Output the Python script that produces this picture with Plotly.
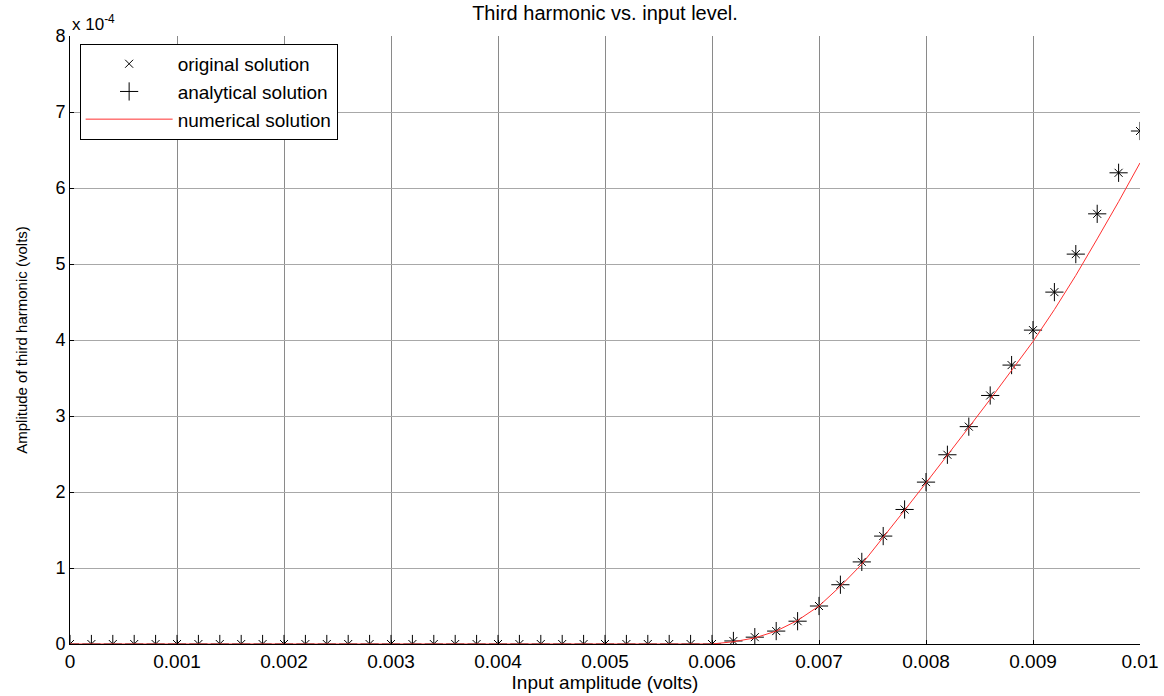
import plotly.graph_objects as go

# input amplitudes (volts)
x_vals = [round(i * 0.0002, 4) for i in range(51)]

# original solution (x 1e-4 volts), 0 ... 0.006 then 0.0062 ... 0.01
original = [0.0]*31 + [0.04, 0.09, 0.17, 0.30, 0.50, 0.78, 1.08, 1.42, 1.77,
                       2.13, 2.49, 2.86, 3.27, 3.67, 4.13, 4.63, 5.13, 5.66, 6.20, 6.75]
# analytical solution (x 1e-4 volts)
analytical = [0.0]*31 + [0.04, 0.09, 0.17, 0.30, 0.50, 0.78, 1.08, 1.42, 1.77,
                         2.13, 2.49, 2.86, 3.27, 3.67, 4.13, 4.63, 5.13, 5.66, 6.20, 6.75]
# numerical solution (x 1e-4 volts)
numerical = [0.0]*31 + [0.03, 0.08, 0.17, 0.31, 0.50, 0.76, 1.05, 1.40, 1.76,
                        2.12, 2.48, 2.85, 3.22, 3.60, 3.98, 4.40, 4.85, 5.33, 5.82, 6.33]

scale = 1e-4
x_ticks = [0, 0.001, 0.002, 0.003, 0.004, 0.005, 0.006, 0.007, 0.008, 0.009, 0.01]
x_ticktext = ["0", "0.001", "0.002", "0.003", "0.004", "0.005", "0.006", "0.007", "0.008", "0.009", "0.01"]
y_ticks = [0, 1, 2, 3, 4, 5, 6, 7, 8]

fig = go.Figure()
fig.add_trace(go.Scatter(
    x=x_vals, y=[v * scale for v in original], mode="markers", name="original solution",
    marker=dict(symbol="x-thin", size=8, line=dict(color="black", width=1), color="black")))
fig.add_trace(go.Scatter(
    x=x_vals, y=[v * scale for v in analytical], mode="markers", name="analytical solution",
    marker=dict(symbol="cross-thin", size=13, line=dict(color="black", width=1), color="black")))
fig.add_trace(go.Scatter(
    x=x_vals, y=[v * scale for v in numerical], mode="lines", name="numerical solution",
    line=dict(color="#ff3030", width=1)))

font = "Liberation Sans, Arial, sans-serif"
fig.update_layout(
    width=1164, height=696,
    margin=dict(l=70, r=24, t=36, b=52),
    paper_bgcolor="white", plot_bgcolor="white",
    font=dict(family=font, color="black", size=17),
    title=dict(text="Third harmonic vs. input level.", x=0.5, xref="paper", xanchor="center",
               y=1 - 13 / 696, yanchor="middle", font=dict(size=20)),
    showlegend=True,
    legend=dict(x=0.009, y=0.987, xanchor="left", yanchor="top",
                bordercolor="black", borderwidth=1, bgcolor="white",
                font=dict(size=19), tracegroupgap=0, itemwidth=87),
    xaxis=dict(range=[0, 0.01], tickvals=x_ticks, ticktext=x_ticktext,
               tickfont=dict(size=19), automargin=False, ticklabeloverflow="allow",
               showgrid=True, gridcolor="#8a8a8a", gridwidth=1,
               showline=True, linecolor="black", linewidth=1,
               ticks="inside", ticklen=4, tickcolor="black", zeroline=False,
               title=dict(text="Input amplitude (volts)", font=dict(size=19), standoff=0)),
    yaxis=dict(range=[0, 8 * scale], tickvals=[t * scale for t in y_ticks],
               ticktext=[str(t) for t in y_ticks], automargin=False,
               tickfont=dict(size=18),
               showgrid=True, gridcolor="#a8a8a8", gridwidth=1,
               showline=True, linecolor="black", linewidth=1,
               ticks="inside", ticklen=4, tickcolor="black", zeroline=False,
               title=dict(text="Amplitude of third harmonic (volts)", font=dict(size=15), standoff=24)),
    annotations=[dict(text="x 10<sup>-4</sup>", xref="paper", yref="paper", x=0.0, y=1.0,
                      xanchor="left", yanchor="bottom", showarrow=False, font=dict(size=17))],
)

fig.write_html("out.html", config={"displayModeBar": False},
               post_script="document.body.style.margin='0px';")
